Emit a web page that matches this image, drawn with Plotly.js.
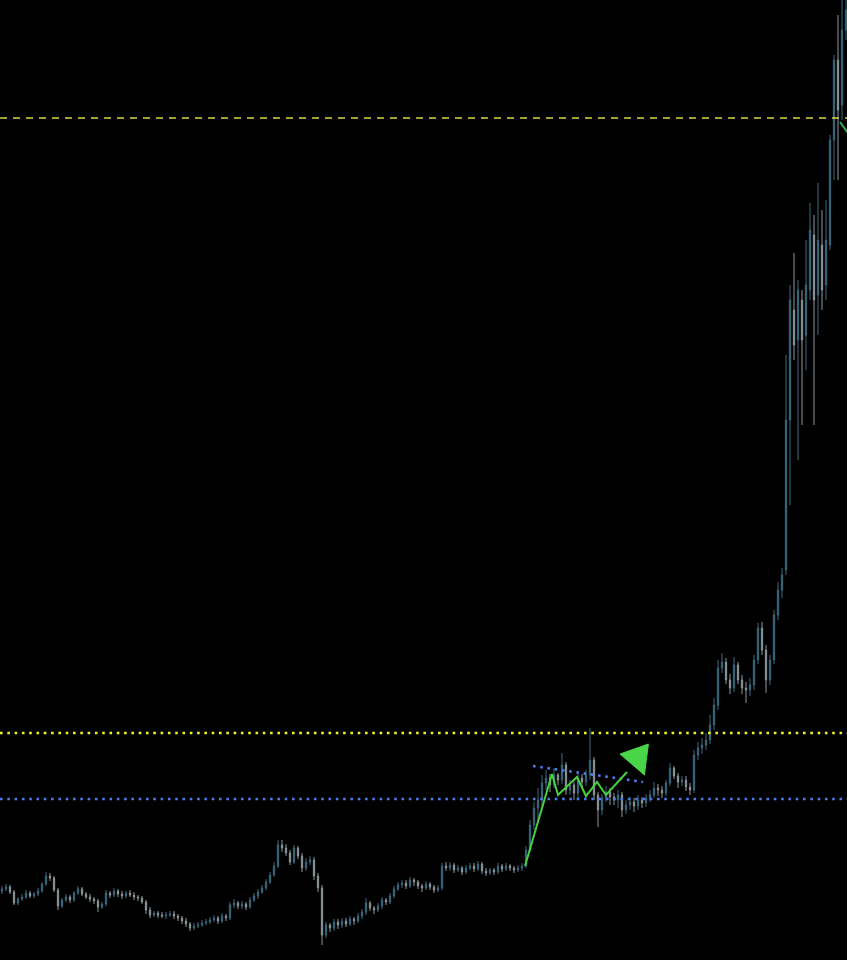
<!DOCTYPE html>
<html>
<head>
<meta charset="utf-8">
<script src="https://cdn.plot.ly/plotly-3.0.1.min.js"></script>
<style>html,body{margin:0;padding:0;background:#000;}#chart{width:847px;height:960px;}</style>
</head>
<body>
<div id="chart"></div>
<script>
// Candle OHLC values (price points), one candle per bar index
const openP = [69,71,73,68,57,61,63,67,64,66,
 69,76,84,82,70,54,60,63,60,67,
 71,66,63,61,59,53,56,67,65,69,
 66,64,67,65,63,62,58,50,45,47,
 45,44,45,46,44,42,39,36,32,34,
 35,37,38,40,42,39,44,42,55,57,
 54,56,53,60,64,68,72,78,85,94,
 115,112,107,98,112,104,92,98,100,84,
 72,25,35,32,38,35,39,36,41,39,
 44,48,57,52,50,54,60,58,64,71,
 75,77,74,80,78,74,72,76,73,70,
 72,94,92,95,90,92,88,92,94,91,
 96,89,87,90,88,94,91,94,92,90,
 92,94,110,135,152,160,177,182,175,185,
 180,195,170,175,167,182,178,185,200,165,
 150,162,168,163,160,165,150,155,158,154,
 160,157,162,165,172,170,167,177,192,184,
 178,180,173,170,205,212,215,220,235,255,
 292,298,280,272,295,280,272,270,275,300,
 332,310,280,300,345,370,390,540,650,620,
 660,625,670,725,665,715,675,715,820,900,
 855,930];
const highP = [74,76,75,70,63,66,70,69,68,72,
 78,88,87,84,72,62,66,65,69,74,
 73,68,66,63,61,58,70,69,72,71,
 69,69,70,68,65,64,60,53,49,49,
 48,48,49,49,46,44,42,38,37,38,
 40,41,43,45,44,47,46,58,61,59,
 59,58,63,67,71,75,81,88,98,120,
 120,116,110,115,114,107,102,104,103,87,
 75,38,37,41,41,42,42,44,43,47,
 51,62,59,54,57,63,62,67,74,78,
 80,80,83,82,80,76,79,78,75,75,
 97,98,98,97,95,94,95,97,97,99,
 98,92,92,92,97,96,97,96,94,95,
 97,114,140,158,172,185,190,186,192,187,
 207,198,180,178,188,186,190,232,203,168,
 166,174,172,167,170,168,160,163,162,165,
 163,166,170,178,176,174,180,197,194,187,
 184,184,177,210,218,222,227,245,262,300,
 307,302,286,303,298,285,278,282,305,337,
 338,315,305,350,378,392,605,675,707,680,
 670,720,757,745,777,750,760,825,905,945,
 960,965];
const lowP = [66,69,66,55,55,59,61,62,62,64,
 67,74,79,68,50,52,58,57,58,65,
 64,61,58,56,48,51,54,62,63,63,
 61,62,63,60,59,56,46,42,43,42,
 42,41,43,41,39,36,33,29,30,32,
 33,35,36,38,36,37,39,40,52,51,
 51,50,51,58,61,66,70,76,83,92,
 108,104,95,96,101,88,89,95,80,68,
 15,22,28,29,31,32,33,34,35,37,
 41,45,49,46,48,51,55,56,62,69,
 72,71,72,74,71,68,70,70,67,68,
 70,89,89,87,88,85,86,90,88,89,
 86,84,85,85,86,88,89,89,87,88,
 89,92,108,130,140,155,170,168,172,175,
 176,165,165,160,162,172,174,180,160,133,
 145,158,155,155,152,143,146,150,148,150,
 152,153,158,162,164,162,164,174,181,172,
 174,169,165,167,200,206,210,216,230,250,
 287,276,266,268,276,266,257,264,270,296,
 305,267,275,296,340,362,385,455,600,500,
 535,590,660,535,625,650,660,710,780,780,
 840,920];
const closeP = [71,73,68,57,61,63,67,64,66,69,
 76,84,82,70,54,60,63,60,67,71,
 66,63,61,59,53,56,67,65,69,66,
 64,67,65,63,62,58,50,45,47,45,
 44,45,46,44,42,39,36,32,34,35,
 37,38,40,42,39,44,42,55,57,54,
 56,53,60,64,68,72,78,85,94,115,
 112,107,98,112,104,92,98,100,84,72,
 25,35,32,38,35,39,36,41,39,44,
 48,57,52,50,54,60,58,64,71,75,
 77,74,80,78,74,72,76,73,70,72,
 94,92,95,90,92,88,92,94,91,96,
 89,87,90,88,94,91,94,92,90,92,
 94,110,135,152,160,177,182,175,185,180,
 195,170,175,167,182,178,185,200,165,150,
 162,168,163,160,165,150,155,158,154,160,
 157,162,165,172,170,167,177,192,184,178,
 180,173,170,205,212,215,220,235,255,292,
 298,280,272,295,280,272,270,275,300,332,
 310,280,300,345,370,385,540,660,615,670,
 620,675,730,660,720,670,720,820,900,850,
 930,950];
const barIndex = closeP.map((_, i) => i);

// Horizontal levels
const levelTopDashed = 842;
const levelYellowDotted = 227;
const levelBlueDotted = 161;
const levelSpanX = [-0.5, 211.25];

// Sloped blue dotted trendline
const trendX = [132.75, 160.25];
const trendY = [194, 178];

// Green drawn zigzag path
const zigX = [130.75, 137.5, 139, 143.75, 146, 148.75, 151, 156.25];
const zigY = [94, 186, 165, 183, 164, 178, 165, 188];

// Green arrow head
const arrowX = [154.5, 161.6, 160.6, 157.6, 154.5];
const arrowY = [206, 216, 185, 195, 206];

// Small green segment at top right
const topSegX = [209.5, 211.3];
const topSegY = [838, 828];

const traces = [
  {type:'scatter', mode:'lines', x:levelSpanX, y:[levelTopDashed, levelTopDashed],
   line:{color:'#d8d840', width:1.3, dash:'7px,6px'}, hoverinfo:'skip'},
  {type:'scatter', mode:'lines', x:levelSpanX, y:[levelYellowDotted, levelYellowDotted],
   line:{color:'#f2f21e', width:2.6, dash:'2.6px,4.7px'}, hoverinfo:'skip'},
  {type:'scatter', mode:'lines', x:levelSpanX, y:[levelBlueDotted, levelBlueDotted],
   line:{color:'#4a7ce6', width:2.6, dash:'2.6px,4.7px'}, hoverinfo:'skip'},
  {type:'scatter', mode:'lines', x:trendX, y:trendY,
   line:{color:'#4a7ce6', width:2.6, dash:'2.6px,4.7px'}, hoverinfo:'skip'},
  {type:'candlestick', x:barIndex, open:openP, high:highP, low:lowP, close:closeP,
   increasing:{line:{color:'#3a6a80', width:1}, fillcolor:'#24505f'},
   decreasing:{line:{color:'#8e979b', width:1}, fillcolor:'#7a868c'},
   whiskerwidth:0, hoverinfo:'skip'},
  {type:'scatter', mode:'lines', x:zigX, y:zigY,
   line:{color:'#46d23c', width:2}, hoverinfo:'skip'},
  {type:'scatter', mode:'lines', x:arrowX, y:arrowY, fill:'toself', fillcolor:'#4ad448',
   line:{color:'#4ad448', width:1}, hoverinfo:'skip'},
  {type:'scatter', mode:'lines', x:topSegX, y:topSegY,
   line:{color:'#2fb052', width:2}, hoverinfo:'skip'}
];

const layout = {
  width:847, height:960,
  margin:{l:0, r:0, t:0, b:0, pad:0},
  paper_bgcolor:'#000000', plot_bgcolor:'#000000',
  showlegend:false,
  boxgap:0.55,
  xaxis:{range:[-0.5, 211.25], visible:false, showgrid:false, zeroline:false, rangeslider:{visible:false}, fixedrange:true},
  yaxis:{range:[0, 960], visible:false, showgrid:false, zeroline:false, fixedrange:true},
  hovermode:false
};

Plotly.newPlot('chart', traces, layout, {displayModeBar:false, staticPlot:true});
</script>
</body>
</html>
